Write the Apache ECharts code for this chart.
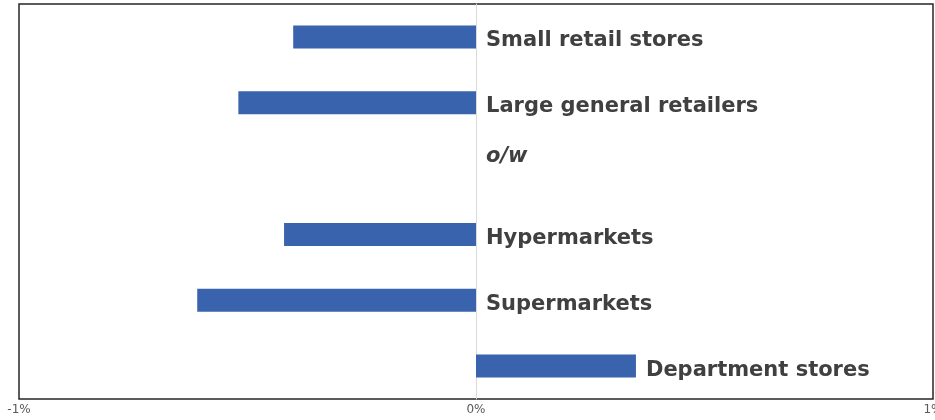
<!DOCTYPE html>
<html>
<head>
<meta charset="utf-8">
<script src="https://cdn.jsdelivr.net/npm/echarts@6/dist/echarts.min.js"></script>
<style>html,body{margin:0;padding:0;background:#fff}#c{width:935px;height:420px}</style>
</head>
<body>
<div id="c"></div>
<script>
const categories = ['Small retail stores', 'Large general retailers', 'o/w', 'Hypermarkets', 'Supermarkets', 'Department stores'];
const values = [-0.40, -0.52, null, -0.42, -0.61, 0.35];
const xTicks = [-1, 0, 1];

const chart = echarts.init(document.getElementById('c'));
const labelFont = 'DejaVu Sans';
const labelData = categories.map((c, i) => {
  const v = values[i];
  const item = { value: [v == null ? 0 : Math.max(0, v), c] };
  if (v == null) {
    item.label = { fontStyle: 'italic', offset: [0, -12] };
  }
  return item;
});

chart.setOption({
  animation: false,
  grid: { left: 19, right: 2, top: 4, bottom: 21, outerBoundsMode: 'none', containLabel: false, show: true, borderColor: '#262626', borderWidth: 1.5, backgroundColor: 'transparent' },
  xAxis: {
    type: 'value', min: xTicks[0], max: xTicks[xTicks.length - 1], interval: 1,
    axisLine: { show: false }, axisTick: { show: false }, splitLine: { show: false },
    axisLabel: { formatter: '{value}%', color: '#595959', fontSize: 12, fontFamily: 'DejaVu Sans', margin: 5 }
  },
  yAxis: {
    type: 'category', data: categories, inverse: true,
    axisLine: { show: true, onZero: true, lineStyle: { color: '#d9d9d9', width: 1 } },
    axisTick: { show: false }, axisLabel: { show: false }, splitLine: { show: false }
  },
  series: [
    {
      type: 'bar', data: values, barWidth: 23,
      itemStyle: { color: '#3A63AD' }
    },
    {
      type: 'scatter', data: labelData, symbolSize: 0, silent: true,
      itemStyle: { opacity: 1 },
      label: {
        show: true, position: 'right', distance: 10,
        formatter: p => p.name || p.value[1],
        color: '#404040', fontSize: 21, fontWeight: 'bold', fontFamily: labelFont,
        offset: [0, 4]
      }
    }
  ]
});
</script>
</body>
</html>
